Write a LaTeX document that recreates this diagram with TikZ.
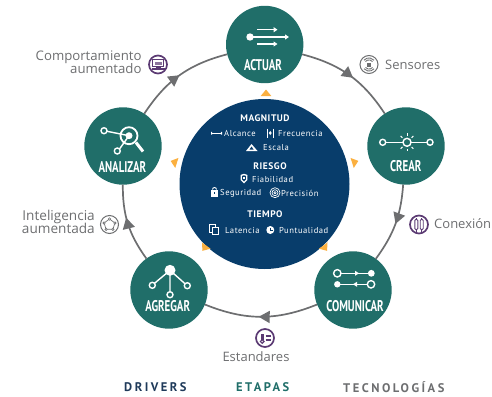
\documentclass[tikz,border=0pt]{standalone}
\usepackage{fontspec}
\usetikzlibrary{arrows.meta,decorations.markings,calc}
\setmainfont{Open Sans}
\newfontfamily\stagefont[FakeStretch=0.70]{PT Sans}
\newfontfamily\bodyfont[LetterSpace=6]{PT Sans}
\newfontfamily\footfont[LetterSpace=20]{PT Sans}
\definecolor{teal}{HTML}{206E69}
\definecolor{navy}{HTML}{083D6B}
\definecolor{amber}{HTML}{FBB040}
\definecolor{plum}{HTML}{5B3A73}
\definecolor{ash}{HTML}{6D6E70}
\definecolor{foot}{HTML}{1F3A5A}
\tikzset{
  stage/.style={circle,fill=teal,minimum size=77.4pt,inner sep=0pt,outer sep=0pt},
  stagelabel/.style={text=white,font=\stagefont\bfseries\fontsize{15.5}{15.5}\selectfont,inner sep=0pt},
  hub/.style={circle,fill=navy,minimum size=170pt,inner sep=0pt},
  headtext/.style={text=white,font=\bodyfont\bfseries\fontsize{9.5}{10}\selectfont,inner sep=0pt},
  bodytext/.style={text=white,font=\bodyfont\fontsize{8.6}{9}\selectfont,inner sep=0pt,anchor=west},
  outer/.style={text=ash,font=\fontsize{13}{12}\selectfont,inner sep=0pt},
  footer/.style={font=\footfont\bfseries\fontsize{12.5}{13}\selectfont,inner sep=0pt},
  ring/.style={circle,draw=#1,line width=1.5pt,minimum size=18pt,inner sep=0pt},
  flow/.style={draw=ash,line width=1.7pt,postaction={decorate},
    decoration={markings,mark=at position #1 with {\arrow{Triangle[length=11pt,width=12pt,fill=ash]}}}},
  ico/.style={draw=white,line width=1.4pt,fill=none},
  icof/.style={fill=white,draw=none},
  mini/.style={draw=#1,line width=.7pt},
  marker/.style={fill=amber,draw=none}
}
\begin{document}
\begin{tikzpicture}[x=1pt,y=-1pt]
\useasboundingbox (0,0) rectangle (492,396);
% hub and stages
\node[hub] (hub) at (264.5,184) {};
\node[stage] (actuar) at (264.7,44.5) {};
\node[stage] (crear) at (406,146) {};
\node[stage] (comunicar) at (353,290) {};
\node[stage] (agregar) at (169,290) {};
\node[stage] (analizar) at (123,146) {};
% ring
\path[flow=.54] (actuar) to[bend left=21] (crear);
\path[flow=.50] (crear) to[bend left=16] (comunicar);
\path[flow=.52] (comunicar) to[bend left=22] (agregar);
\path[flow=.58] (agregar) to[bend left=18] (analizar);
\path[flow=.50] (analizar) to[bend left=21] (actuar);
% labels in stages
\node[stagelabel] (l1) at (263,65) {ACTUAR};
\node[stagelabel] (l2) at (405.7,165.7) {CREAR};
\node[stagelabel] (l3) at (355,306) {COMUNICAR};
\node[stagelabel] (l4) at (167.7,305.7) {AGREGAR};
\node[stagelabel] (l5) at (122.3,166.7) {ANALIZAR};
% markers
\foreach \x/\y/\a in {266/93/90,355/162/18,174/162/162,204.5/248/234,325/248/306}{
  \fill[marker,shift={(\x,\y)},rotate=\a] (3.5,0) -- (-3,5.3) -- (-3,-5.3) -- cycle;
}
% hub text
\node[headtext] (h1) at (265,118.5) {MAGNITUD};
\node[headtext] (h2) at (270,165.7) {RIESGO};
\node[headtext] (h3) at (265,213.7) {TIEMPO};
\node[bodytext] (t1) at (224,133.5) {Alcance};
\node[bodytext] (t2) at (278,133.5) {Frecuencia};
\node[bodytext] (t3) at (263,148) {Escala};
\node[bodytext] (t4) at (252,179.5) {Fiabilidad};
\node[bodytext] (t5) at (220,193) {Seguridad};
\node[bodytext] (t6) at (281,193) {Precisión};
\node[bodytext] (t7) at (225,231) {Latencia};
\node[bodytext] (t8) at (279,231) {Puntualidad};
% hub icons
\draw[white,line width=.9pt] (211,133.2) -- (222,133.2);
\fill[white] (211,131.8) rectangle (212.2,134.6) (220.8,131.8) rectangle (222,134.6);
\draw[white,line width=.9pt] (267,128.5) -- (267,137.5) (273.5,128.5) -- (273.5,137.5);
\fill[white] (270.2,131) -- (271.7,133) -- (270.2,135) -- (268.8,133) -- cycle;
\fill[white] (246,151) -- (251.5,144) -- (257.5,151) -- cycle;
\fill[navy] (251.5,146.5) -- (249.5,149.5) -- (253.5,149.5) -- cycle;
\fill[white] (240.5,175) -- (244,173.8) -- (247.5,175) -- (247.3,180) -- (244,183.5) -- (240.7,180) -- cycle;
\fill[navy] (242,176) -- (244,175.3) -- (246,176) -- (245.8,179.5) -- (244,181.5) -- (242.2,179.5) -- cycle;
\fill[white] (243,176.5) rectangle (245,179);
\draw[white,line width=.9pt] (212.5,189.5) arc[start angle=180,end angle=360,radius=2];
\fill[white] (211,189.5) rectangle (218,196.5);
\fill[navy] (213.8,192) rectangle (215.2,194);
\foreach \r in {1.2,3,5}{\draw[white,line width=.7pt] (275,192.7) circle[radius=\r];}
\draw[white,line width=.8pt] (209.5,224.5) rectangle (215.5,232);
\fill[white] (212,227) rectangle (219,235);
\fill[navy] (213.3,228.2) rectangle (217.8,233.8);
\fill[white] (270.3,230) circle[radius=4];
\draw[navy,line width=.7pt] (270.3,227.8) -- (270.3,230.2) -- (272.5,230.2);
% ACTUAR icon
\fill[icof] (250,37) circle[radius=3.7];
\draw[ico,-{Triangle[length=4pt,width=5pt]}] (250,37) -- (289,37);
\draw[ico,-{Triangle[length=4pt,width=5pt]}] (257,29.7) -- (277.5,29.7);
\draw[ico,-{Triangle[length=4pt,width=5pt]}] (257,44) -- (277.5,44);
% CREAR icon
\draw[ico] (385.7,142.3) -- (403,142.3) (411,142.3) -- (427,142.3);
\draw[ico] (382.7,142.3) circle[radius=3] (407,142.3) circle[radius=4] (430,142.3) circle[radius=3];
\foreach \a in {45,90,135,225,270,315}{\draw[white,line width=1pt] ($(407,142.3)+(\a:6.5)$) -- ($(407,142.3)+(\a:9)$);}
% ANALIZAR icon
\draw[ico,line width=1.8pt] (129,135.7) circle[radius=8.5];
\fill[icof] (129,135.7) circle[radius=3.5];
\draw[white,line width=3pt] (136,142.5) -- (143,151.5);
\draw[ico] (107,131.3) -- (129,135.7) (119.5,149) -- (129,135.7);
\draw[ico] (104,130.7) circle[radius=3] (117.3,151) circle[radius=3];
% AGREGAR icon
\fill[icof] (170,270.3) circle[radius=5.5];
\draw[ico] (170,270.3) -- (170,291.5) (170,270.3) -- (154.5,283.3) (170,270.3) -- (185,283.7);
\draw[ico] (152.3,285.3) circle[radius=3] (187.3,285.7) circle[radius=3] (170,294.7) circle[radius=3];
% COMUNICAR icon
\draw[ico] (337.3,273.3) circle[radius=3.7] (371,284.3) circle[radius=3.7];
\fill[icof] (371.3,273.3) circle[radius=3.4] (337.3,284.3) circle[radius=3.2];
\draw[ico] (341,273.3) -- (371,273.3) (337,284.3) -- (367.3,284.3);
\fill[white] (355,270.8) -- (355,275.8) -- (359,273.3) -- cycle;
\fill[white] (357,281.8) -- (357,286.8) -- (353,284.3) -- cycle;
% outer labels and icons
\node[ring=ash,line width=1pt] (i1) at (369,64.5) {};
\node[ring=plum,line width=1.7pt] (i2) at (419,224.5) {};
\node[ring=plum,line width=1.7pt] (i3) at (265,338) {};
\node[ring=ash,line width=1pt] (i4) at (109.5,224.5) {};
\node[ring=plum,line width=1.7pt] (i5) at (158,64.5) {};
\node[outer,anchor=west] (o1) at (385,64.5) {Sensores};
\node[outer,anchor=west] (o2) at (434,224) {Conexión};
\node[outer] (o3) at (256,357) {Estandares};
\node[outer,anchor=east,font=\fontsize{13.6}{12}\selectfont] (o4) at (95,216.7) {Inteligencia};
\node[outer,anchor=east,font=\fontsize{13.6}{12}\selectfont] (o4b) at (95,228.7) {aumentada};
\node[outer,anchor=east,font=\fontsize{13.2}{12}\selectfont] (o5) at (141.7,57.5) {Comportamiento};
\node[outer,anchor=east,font=\fontsize{13.2}{12}\selectfont] (o5b) at (141.7,68.7) {aumentado};
% sensores glyph
\fill[ash] (367.3,62.5) rectangle (370.7,66.5);
\draw[mini=ash,line width=.9pt] (369,64.5) ++(220:4.6) arc[start angle=220,end angle=320,radius=4.6];
\draw[mini=ash,line width=.9pt] (369,64.5) ++(220:6.6) arc[start angle=220,end angle=320,radius=6.6];
\draw[mini=ash,line width=.9pt] (369,64.5) ++(40:4.6) arc[start angle=40,end angle=140,radius=4.6];
\draw[mini=ash,line width=.9pt] (369,64.5) ++(40:6.6) arc[start angle=40,end angle=140,radius=6.6];
% conexion glyph
\draw[plum,line width=.9pt,rounded corners=1.5pt] (414.8,219) rectangle (417.8,230);
\draw[plum,line width=.9pt,rounded corners=1.5pt] (420.2,219) rectangle (423.2,230);
\draw[plum,line width=.8pt] (416.3,219) -- (416.3,217.5) (421.7,219) -- (421.7,217.5) (416.3,230) -- (416.3,231.5) (421.7,230) -- (421.7,231.5);
% estandares glyph
\draw[plum,line width=1.1pt] (262.2,341.5) circle[radius=1.8];
\fill[plum] (261,333.5) rectangle (263.6,339.5);
\draw[plum,line width=1.2pt] (265.5,336) -- (271,336) (265.5,340) -- (271,340);
% inteligencia glyph
\draw[mini=ash] (109.5,219) -- (114.9,223) -- (112.9,229.3) -- (106.1,229.3) -- (104.1,223) -- cycle;
\foreach \p in {(109.5,219),(114.9,223),(112.9,229.3),(106.1,229.3),(104.1,223)}{\filldraw[fill=white,draw=ash,line width=.6pt] \p circle[radius=1.2];}
% comportamiento glyph
\draw[plum,line width=.9pt] (152.5,59.8) rectangle (163.5,66.5);
\fill[plum!70!white] (154.5,61.5) rectangle (161.5,65);
\draw[plum,line width=1.1pt] (155.5,67.5) -- (160.5,67.5) (151.5,69) -- (164.5,69);
% footer
\node[footer,text=foot,anchor=west] (f1) at (124,387) {DRIVERS};
\node[footer,text=teal,anchor=west] (f2) at (236,387) {ETAPAS};
\node[footer,text=ash,anchor=west] (f3) at (343,387) {TECNOLOGÍAS};
\end{tikzpicture}
\end{document}
